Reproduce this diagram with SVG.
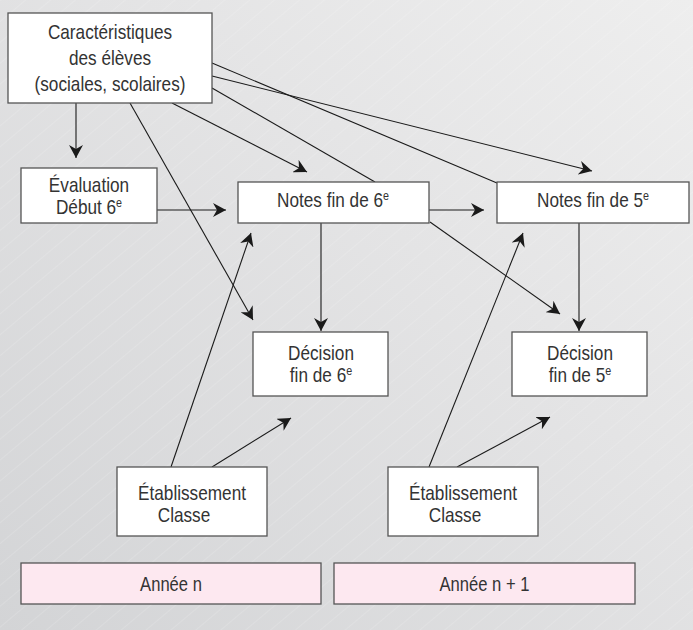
<svg xmlns="http://www.w3.org/2000/svg" width="693" height="630" viewBox="0 0 693 630">
<style>
.box{fill:#fff;stroke:#555;stroke-width:1.3}
.year{fill:#fde8f0;stroke:#555;stroke-width:1.3}
.t{font-family:"Liberation Sans",Arial,sans-serif;font-size:20px;fill:#333;text-anchor:middle}
.sup{font-size:12.5px}
.c{fill:none;stroke:#1a1a1a;stroke-width:1.1}
.a{marker-end:url(#ah)}
</style>
<defs>
<linearGradient id="bg" x1="0" y1="1" x2="1" y2="0">
<stop offset="0" stop-color="#d3d4d6"/>
<stop offset="0.6" stop-color="#e4e4e5"/>
<stop offset="1" stop-color="#eeeeee"/>
</linearGradient>
<pattern id="stripes" width="16" height="16" patternUnits="userSpaceOnUse" patternTransform="rotate(-40)">
<line x1="0" y1="0" x2="16" y2="0" stroke="#ffffff" stroke-opacity="0.35" stroke-width="0.8"/>
</pattern>
<marker id="ah" markerUnits="userSpaceOnUse" markerWidth="14" markerHeight="14" refX="13" refY="7" orient="auto">
<path d="M0,0 L13,7 L0,14 L4,7 z" fill="#1a1a1a"/>
</marker>
</defs>
<rect x="0" y="0" width="693" height="630" fill="url(#bg)"/>
<rect x="0" y="0" width="693" height="630" fill="url(#stripes)"/>

<g id="connectors">
<line class="c a" x1="76" y1="103" x2="76" y2="158"/>
<line class="c a" x1="157" y1="210" x2="226" y2="210"/>
<line class="c a" x1="429" y1="210" x2="484" y2="210"/>
<line class="c a" x1="172" y1="103" x2="307" y2="172"/>
<line class="c" x1="212" y1="88" x2="375" y2="182"/>
<line class="c" x1="212" y1="63" x2="497" y2="183"/>
<line class="c a" x1="212" y1="76" x2="592" y2="171"/>
<line class="c a" x1="130" y1="103" x2="253" y2="320"/>
<line class="c a" x1="321" y1="223" x2="321" y2="331"/>
<line class="c a" x1="579" y1="223" x2="579" y2="331"/>
<line class="c a" x1="430" y1="222" x2="560" y2="314"/>
<line class="c a" x1="171" y1="467" x2="251" y2="233"/>
<line class="c a" x1="212" y1="467" x2="291" y2="418"/>
<line class="c a" x1="429" y1="467" x2="523" y2="233"/>
<line class="c a" x1="457" y1="467" x2="550" y2="417"/>
</g>

<g id="caracteristiques">
<rect class="box" x="8" y="13" width="204" height="90"/>
<text class="t" transform="translate(110 39) scale(0.86 1)">Caractéristiques</text>
<text class="t" transform="translate(110 65) scale(0.86 1)">des élèves</text>
<text class="t" transform="translate(110 91) scale(0.86 1)">(sociales, scolaires)</text>
</g>

<g id="evaluation">
<rect class="box" x="21" y="168" width="136" height="55"/>
<text class="t" transform="translate(89 192) scale(0.86 1)">Évaluation</text>
<text class="t" transform="translate(89 214) scale(0.86 1)">Début 6<tspan class="sup" dy="-7">e</tspan></text>
</g>

<g id="notes6">
<rect class="box" x="238" y="182" width="191" height="41"/>
<text class="t" transform="translate(333 207) scale(0.86 1)">Notes fin de 6<tspan class="sup" dy="-7">e</tspan></text>
</g>

<g id="notes5">
<rect class="box" x="497" y="182" width="192" height="41"/>
<text class="t" transform="translate(593 207) scale(0.86 1)">Notes fin de 5<tspan class="sup" dy="-7">e</tspan></text>
</g>

<g id="decision6">
<rect class="box" x="253" y="332" width="135" height="64"/>
<text class="t" transform="translate(321 360) scale(0.86 1)">Décision</text>
<text class="t" transform="translate(321 382) scale(0.86 1)">fin de 6<tspan class="sup" dy="-7">e</tspan></text>
</g>

<g id="decision5">
<rect class="box" x="512" y="332" width="135" height="64"/>
<text class="t" transform="translate(580 360) scale(0.86 1)">Décision</text>
<text class="t" transform="translate(580 382) scale(0.86 1)">fin de 5<tspan class="sup" dy="-7">e</tspan></text>
</g>

<g id="etablissement1">
<rect class="box" x="117" y="467" width="150" height="69"/>
<text class="t" transform="translate(192 500) scale(0.86 1)">Établissement</text>
<text class="t" transform="translate(184 522) scale(0.86 1)">Classe</text>
</g>

<g id="etablissement2">
<rect class="box" x="388" y="467" width="150" height="69"/>
<text class="t" transform="translate(463 500) scale(0.86 1)">Établissement</text>
<text class="t" transform="translate(455 522) scale(0.86 1)">Classe</text>
</g>

<g id="annee-n">
<rect class="year" x="21" y="563" width="300" height="41"/>
<text class="t" transform="translate(171 591) scale(0.83 1)">Année n</text>
</g>

<g id="annee-n1">
<rect class="year" x="334" y="563" width="301" height="41"/>
<text class="t" transform="translate(484.5 591) scale(0.83 1)">Année n + 1</text>
</g>
</svg>
